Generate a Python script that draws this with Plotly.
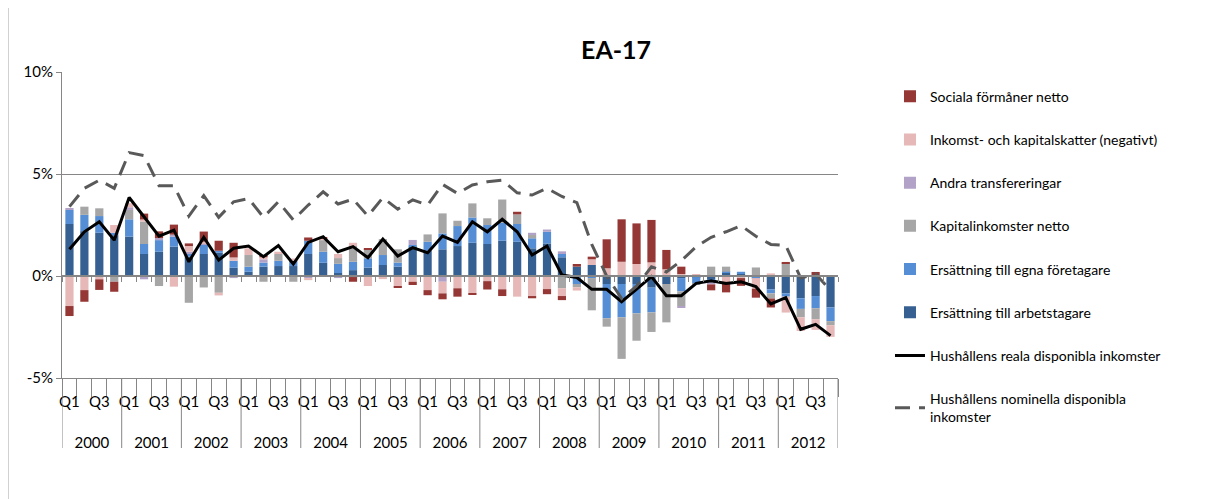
import plotly.graph_objects as go

# Kvartal 2000 Q1 - 2012 Q4
years = list(range(2000, 2013))
quarters = ["Q1", "Q2", "Q3", "Q4"]

# Bidrag (procentenheter)
arbetstagare = [2.55, 2.2, 2.12, 2.0, 1.93, 1.08, 1.19, 1.44, 0.95, 1.08, 1.14, 0.41, 0.21,
                0.46, 0.49, 0.49, 1.08, 0.65, 0.15, 0.29, 0.41, 0.54, 0.46, 1.44, 1.24, 1.31,
                1.47, 1.63, 1.57, 1.73, 1.68, 1.36, 1.6, 0.92, 0.46, 0.54, -0.39, -0.39, -0.39,
                -0.57, -0.39, -0.1, -0.05, -0.16, 0.15, 0.1, -0.05, -0.65, -0.85, -1.09, -0.98, -1.54]
egna_foretagare = [0.69, 0.8, 0.82, 0.12, 0.85, 0.49, 0.57, 0.49, 0.13, 0.45, 0.1, 0.34, 0.25,
                   0.2, 0.26, 0.26, 0.65, 0.54, 0.45, 0.41, 0.46, 0.49, 0.2, 0.08, 0.44, 0.78,
                   0.98, 1.24, 0.93, 0.88, 0.87, 0.49, 0.57, 0.16, -0.39, -0.1, -1.68, -1.63, -1.44,
                   -1.21, 0.0, -0.65, -0.33, -0.05, 0.06, 0.11, -0.05, -0.2, -0.16, -0.52, -0.6, -0.67]
kapitalinkomster = [0.0, 0.4, 0.38, -0.28, 0.46, 1.1, -0.49, 0.0, -1.31, -0.56, -0.82, 0.0, 0.57,
                    -0.28, 0.33, -0.28, 0.0, 0.57, 0.28, 0.77, 0.44, 0.78, 0.65, 0.0, 0.36, 0.98,
                    0.26, 0.69, 0.33, 1.14, 0.47, 0.16, 0.0, -0.6, -0.16, -1.58, -0.41, -2.04, -1.34,
                    -0.96, -1.88, -0.72, -0.05, 0.46, 0.25, 0.0, 0.42, -0.25, 0.62, -0.41, -0.54, -0.2]
andra_transfereringar = [0.05, 0.0, 0.0, 0.0, 0.13, -0.16, 0.1, 0.1, 0.11, 0.05, 0.0, -0.1, 0.0,
                         0.16, 0.0, 0.0, -0.1, 0.0, -0.1, -0.05, 0.0, 0.0, 0.0, 0.25, 0.0, -0.28,
                         0.0, 0.0, 0.0, 0.0, 0.0, 0.11, 0.11, 0.13, 0.0, 0.0, 0.0, 0.0, 0.0,
                         0.0, 0.0, -0.08, 0.0, -0.2, 0.0, 0.0, 0.0, 0.0, 0.0, 0.0, 0.0, 0.0]
skatter = [-1.47, -0.69, -0.16, 0.38, 0.2, 0.1, 0.0, -0.52, 0.28, 0.1, -0.13, 0.16, 0.33,
           0.1, 0.11, 0.11, -0.1, 0.1, 0.2, 0.16, -0.49, -0.15, -0.52, -0.28, -0.69, -0.57,
           -0.6, -0.85, -0.25, -0.65, -1.01, -0.98, -0.64, -0.38, -0.16, 0.28, 0.38, 0.7, 0.59,
           0.67, 0.33, 0.1, 0.1, 0.0, -0.28, -0.1, -0.52, 0.13, -0.78, -0.67, -0.52, -0.57]
sociala_formaner = [-0.49, -0.57, -0.52, -0.49, 0.0, 0.29, 0.33, 0.49, 0.13, 0.5, 0.49, 0.72, 0.0,
                    0.11, 0.0, 0.0, 0.16, 0.05, 0.0, -0.23, 0.05, 0.0, -0.06, -0.16, -0.25, -0.29,
                    -0.41, -0.08, -0.41, -0.33, 0.13, -0.11, -0.25, -0.2, 0.13, 0.13, 1.42, 2.08, 1.99,
                    2.08, 0.95, 0.36, 0.0, -0.29, -0.52, -0.38, -0.44, -0.44, 0.07, 0.0, 0.2, 0.05]

reala = [1.31, 2.17, 2.66, 1.76, 3.85, 2.9, 1.95, 2.25, 0.7, 1.9, 0.78, 1.36, 1.47,
         0.95, 1.49, 0.59, 1.65, 1.93, 1.19, 1.44, 0.9, 1.81, 0.98, 1.39, 1.14, 1.96,
         1.65, 2.66, 2.17, 2.78, 2.17, 1.03, 1.47, 0.05, -0.07, -0.65, -0.65, -1.26, -0.65,
         -0.03, -0.96, -0.96, -0.36, -0.23, -0.36, -0.28, -0.52, -1.37, -1.06, -2.61, -2.37, -2.92]
nominella = [3.4, 4.3, 4.7, 4.3, 6.05, 5.9, 4.43, 4.43, 2.94, 3.94, 2.88, 3.64, 3.8,
             2.88, 3.64, 2.75, 3.48, 4.13, 3.53, 3.77, 2.94, 3.84, 3.28, 3.73, 3.48, 4.49,
             4.05, 4.46, 4.62, 4.7, 4.08, 3.97, 4.3, 3.9, 3.6, 1.55, 0.0, -1.1, -0.5,
             0.45, 0.2, 0.75, 1.44, 1.9, 2.17, 2.47, 1.95, 1.55, 1.5, -0.1, 0.1, -0.7]

FONT = "Lato"
AXIS_GRAY = "#868686"

labels = [q for y in years for q in quarters]
x = list(range(len(labels)))

fig = go.Figure()

bar_series = [
    ("Ersättning till arbetstagare", arbetstagare, "#376092", 6),
    ("Ersättning till egna företagare", egna_foretagare, "#558ED5", 5),
    ("Kapitalinkomster netto", kapitalinkomster, "#A6A6A6", 4),
    ("Andra transfereringar", andra_transfereringar, "#B3A2C7", 3),
    ("Inkomst- och kapitalskatter (negativt)", skatter, "#E6B9B8", 2),
    ("Sociala förmåner netto", sociala_formaner, "#953735", 1),
]
for name, vals, color, rank in bar_series:
    fig.add_trace(go.Bar(
        x=x, y=vals, name=name, marker=dict(color=color, line=dict(width=0)),
        width=0.55, legendrank=rank, legendgroup=name
    ))

fig.add_trace(go.Scatter(
    x=x, y=reala, mode="lines", name="Hushållens reala disponibla inkomster",
    line=dict(color="black", width=3), legendrank=7, legendgroup="reala"
))
fig.add_trace(go.Scatter(
    x=x, y=nominella, mode="lines", name="Hushållens nominella disponibla<br>inkomster",
    line=dict(color="#595959", width=3, dash="15px,9px"), legendrank=8, legendgroup="nom"
))

# positions (paper) for the axis-like lines below the plot
bottom = 0.186
zero_pos = (448 - 276) / 376

q_ticks = [i for i, q in enumerate(labels) if q in ("Q1", "Q3")]
year_centers = [i * 4 + 1.5 for i in range(len(years))]

# the page body adds an 8px offset, so the figure is 8px smaller
fig.update_layout(
    width=1197, height=491,
    barmode="relative",
    bargap=0.45,
    plot_bgcolor="white", paper_bgcolor="white",
    margin=dict(l=54, r=367, t=64, b=51),
    font=dict(family=FONT, size=14, color="black"),
    title=dict(text="<b>EA-17</b>", x=0.508, xanchor="center", y=0.914, yanchor="middle",
               font=dict(family=FONT, size=25, color="black")),
    showlegend=True,
    legend=dict(x=1.067, y=0.977, xanchor="left", yanchor="top", tracegroupgap=22,
                maxheight=480, font=dict(family=FONT, size=14), bgcolor="rgba(0,0,0,0)"),
    yaxis=dict(domain=[bottom, 1], range=[-5, 10], tickvals=[-5, 0, 5, 10],
               ticktext=["-5%", "0%", "5%", "10%"], showgrid=True, gridcolor=AXIS_GRAY,
               zeroline=False, showline=True, linecolor=AXIS_GRAY, ticks="outside",
               ticklen=5, tickcolor=AXIS_GRAY, tickfont=dict(size=15)),
    xaxis=dict(range=[-0.5, 51.5], anchor="y", showline=True, linecolor=AXIS_GRAY,
               showgrid=False, zeroline=False, tickvals=q_ticks,
               ticktext=[labels[i] for i in q_ticks], ticks="", ticklabelstandoff=10,
               tickfont=dict(size=15),
               minor=dict(tick0=-0.5, dtick=1, ticks="outside", ticklen=18,
                          tickcolor=AXIS_GRAY, showgrid=False)),
    xaxis2=dict(range=[-0.5, 51.5], overlaying="x", anchor="free", position=0.043,
                showline=False, showgrid=False, zeroline=False, tickvals=year_centers,
                ticktext=[str(y) for y in years], ticks="", tickfont=dict(size=15)),
    xaxis3=dict(range=[-0.5, 51.5], overlaying="x", anchor="free", position=zero_pos,
                showline=True, linecolor=AXIS_GRAY, linewidth=1.5, showgrid=False,
                zeroline=False, showticklabels=False, ticks="",
                minor=dict(tick0=-0.5, dtick=1, ticks="outside", ticklen=5,
                           tickcolor=AXIS_GRAY, showgrid=False)),
)

# year dividers below the axis
shapes = []
for b in [i * 4 - 0.5 for i in range(len(years) + 1)]:
    shapes.append(dict(type="line", xref="x", yref="paper", x0=b, x1=b, y0=0, y1=bottom,
                       line=dict(color=AXIS_GRAY, width=1)))
# outer chart frame (left edge)
shapes.append(dict(type="line", xref="paper", yref="paper", x0=-0.0696, x1=-0.0696,
                   y0=-0.2, y1=1.25, line=dict(color="#A0A0A0", width=1)))
fig.update_layout(shapes=shapes)

# dummy traces so the extra x axes are drawn
fig.add_trace(go.Scatter(x=[-0.5], y=[None], xaxis="x2", showlegend=False, hoverinfo="skip"))
fig.add_trace(go.Scatter(x=[-0.5], y=[None], xaxis="x3", showlegend=False, hoverinfo="skip"))

fig.write_html("out.html")
